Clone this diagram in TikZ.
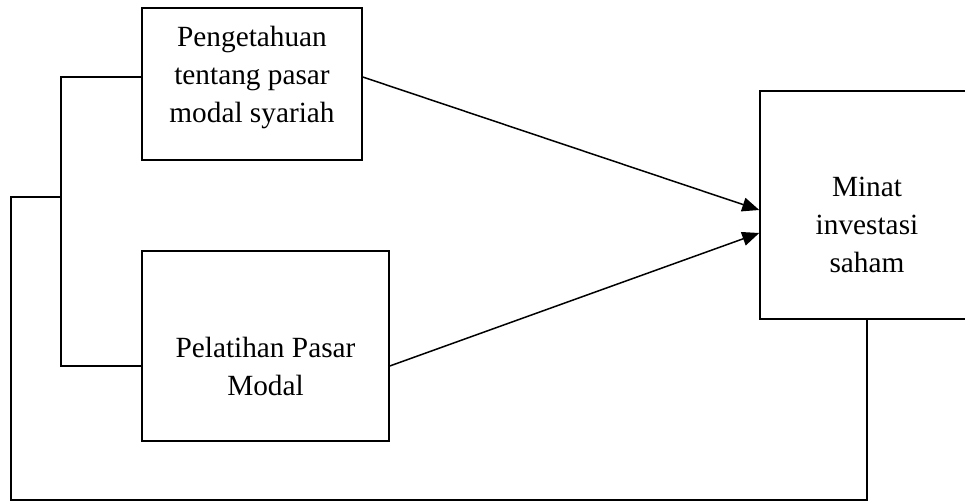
\documentclass[tikz,border=0pt]{standalone}
\usepackage{fontspec}
\setmainfont{Liberation Serif}
\usetikzlibrary{positioning,calc}
\usetikzlibrary{arrows.meta}

\begin{document}
\begin{tikzpicture}[>={Triangle[length=17pt, width=14pt]}, line width=1.5pt, x=1pt, y=-1pt,
    kotak/.style={draw, rectangle, inner sep=0pt},
    teks/.style={align=center, font=\fontsize{29.3}{38}\selectfont}]

    \useasboundingbox (0, 0) rectangle (965, 502);

    % kotak
    \node [kotak, minimum width=220, minimum height=152] (peng) at (252, 84) {};
    \node [kotak, minimum width=247, minimum height=190] (pel) at (265.5, 346) {};
    \node [kotak, minimum width=214, minimum height=228] (minat) at (867, 205) {};

    % teks
    \node [teks] (tpeng) at ($(peng.center) + (0, -6.5)$) {Pengetahuan\\tentang pasar\\modal syariah};
    \node [teks] (tpel) at ($(pel.center) + (0, 20)$) {Pelatihan Pasar\\Modal};
    \node [teks] (tminat) at ($(minat.center) + (0, 20)$) {Minat\\investasi\\saham};

    % titik bantu
    \coordinate (a) at ($(peng.west) + (0, -7)$);
    \coordinate (b) at ($(pel.west) + (0, 20)$);
    \coordinate (jx) at (61, 197);
    \coordinate (ki) at (11, 197);
    \coordinate (ba) at (11, 500);

    \draw (a) -- (a -| jx) -- (b -| jx) -- (b);
    \draw (jx) -- (ki) -- (ba) -| (minat.south);

    \draw [->] ($(peng.east) + (0, -7)$) -- ($(minat.west) + (0, 5)$);
    \draw [->] ($(pel.east) + (0, 20)$) -- ($(minat.west) + (0, 28)$);

\end{tikzpicture}
\end{document}
